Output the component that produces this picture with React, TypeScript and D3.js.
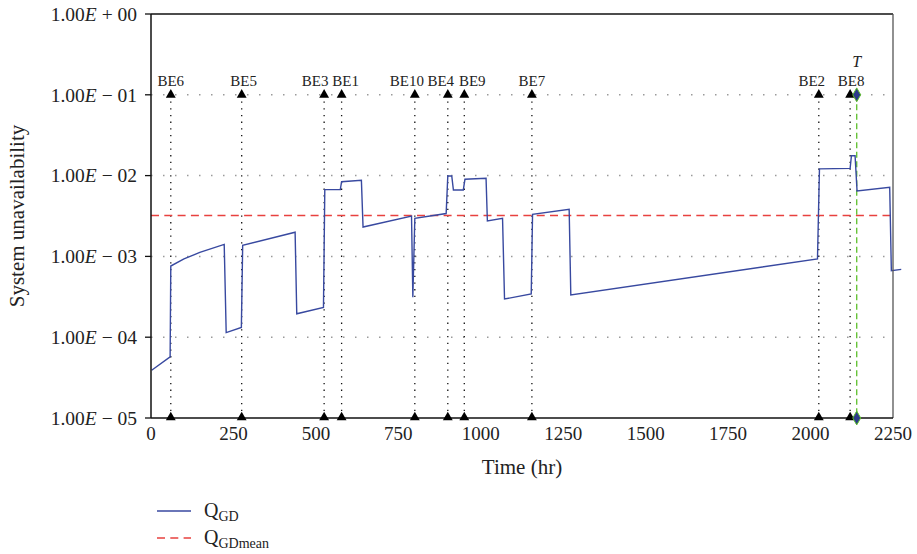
import React from "react";
import * as d3 from "d3";

// Q_GD curve (hr, unavailability)
const qTime = [
  2, 58, 60, 100, 148, 222, 228, 274, 278, 437, 442, 523, 527, 574, 578, 638,
  643, 790, 794, 800, 895, 900, 912, 917, 947, 952, 1016, 1020, 1066, 1072,
  1153, 1157, 1268, 1273, 2021, 2027, 2120, 2124, 2135, 2141, 2240, 2245, 2275,
];
const qValue = [
  3.9e-5, 5.7e-5, 7.6e-4, 9.3e-4, 1.12e-3, 1.41e-3, 1.14e-4, 1.32e-4, 1.37e-3,
  1.99e-3, 1.95e-4, 2.34e-4, 6.7e-3, 6.7e-3, 8.4e-3, 8.75e-3, 2.31e-3, 3.16e-3,
  3.12e-4, 2.96e-3, 3.39e-3, 9.9e-3, 9.9e-3, 6.64e-3, 6.64e-3, 9.0e-3, 9.25e-3,
  2.74e-3, 2.96e-3, 2.97e-4, 3.43e-4, 3.32e-3, 3.83e-3, 3.33e-4, 9.3e-4,
  1.21e-2, 1.23e-2, 1.76e-2, 1.76e-2, 6.46e-3, 7.16e-3, 6.65e-4, 6.9e-4,
];
const meanValue = 3.2e-3;

const eventNames = ["BE6", "BE5", "BE3", "BE1", "BE10", "BE4", "BE9", "BE7", "BE2", "BE8"];
const eventTimes = [60, 275, 525, 578, 800, 900, 950, 1155, 2025, 2120];
const missionTime = 2140;

const xTicks = [0, 250, 500, 750, 1000, 1250, 1500, 1750, 2000, 2250];
const yTickExp = [0, -1, -2, -3, -4, -5];

const width = 917;
const height = 554;
const margin = { top: 14, right: 24, bottom: 136, left: 151 };
const font = "'Liberation Serif', 'Times New Roman', serif";
// nudges so neighbouring event labels don't collide (px)
const labelDx = [0, 2, -9, 4, -8, -7, 8, 0, -7, 1];

export default function App() {
  const x = d3.scaleLinear().domain([0, 2250]).range([margin.left, width - margin.right]);
  const y = d3.scaleLog().domain([1e-5, 1]).range([height - margin.bottom, margin.top]);

  const line = d3
    .line<number>()
    .x((d, i) => x(qTime[i]))
    .y((d) => y(d));

  const tri = d3.symbol(d3.symbolTriangle, 42)() as string;
  const diamond = d3.symbol(d3.symbolDiamond, 55)() as string;

  const yTop = y(1e-1);
  const yBottom = y(1e-5);
  const x0 = x.range()[0];
  const x1 = x.range()[1];

  const tickLabel = (e: number) => {
    const sign = e >= 0 ? " + " : " \u2212 ";
    const num = String(Math.abs(e)).padStart(2, "0");
    return (
      <>
        1.00<tspan fontStyle="italic">E</tspan>
        {sign}
        {num}
      </>
    );
  };

  return (
    <div style={{ position: "absolute", left: 0, top: 0 }}>
      <svg width={width} height={height} fontFamily={font}>
        <rect width={width} height={height} fill="white" />

        {/* horizontal grid */}
        {yTickExp
          .filter((e) => e < 0 && e > -5)
          .map((e) => (
            <line
              key={e}
              x1={x0}
              x2={x1}
              y1={y(Math.pow(10, e))}
              y2={y(Math.pow(10, e))}
              stroke="#9a9a9a"
              strokeWidth={1.5}
              strokeDasharray="1.5 10.5"
            />
          ))}

        {/* event lines */}
        {eventTimes.map((t, i) => (
          <line
            key={eventNames[i]}
            x1={x(t)}
            x2={x(t)}
            y1={yTop}
            y2={yBottom}
            stroke="#111"
            strokeWidth={1.3}
            strokeDasharray="1.3 5.4"
          />
        ))}

        {/* mean */}
        <line
          x1={x0}
          x2={x1}
          y1={y(meanValue)}
          y2={y(meanValue)}
          stroke="#e8413f"
          strokeWidth={1.5}
          strokeDasharray="8 5.3"
        />

        {/* mission time */}
        <line
          x1={x(missionTime)}
          x2={x(missionTime)}
          y1={yTop}
          y2={yBottom}
          stroke="#5cbf2a"
          strokeWidth={1.3}
          strokeDasharray="6 3.5"
        />

        {/* Q_GD */}
        <path d={line(qValue) as string} fill="none" stroke="#3849a0" strokeWidth={1.4} />

        {/* frame */}
        <line x1={x0} x2={x1} y1={margin.top} y2={margin.top} stroke="#111" strokeWidth={1.5} />
        <line x1={x1} x2={x1} y1={margin.top} y2={yBottom} stroke="#555" strokeWidth={1.3} />
        <line x1={x0} x2={x0} y1={margin.top} y2={yBottom} stroke="#111" strokeWidth={1.5} />
        <line x1={x0} x2={x1} y1={yBottom} y2={yBottom} stroke="#111" strokeWidth={1.5} />

        {/* event markers */}
        {eventTimes.map((t, i) => (
          <g key={"m" + eventNames[i]}>
            <path d={tri} transform={`translate(${x(t)},${yTop})`} fill="#000" />
            <path d={tri} transform={`translate(${x(t)},${yBottom - 0.5})`} fill="#000" />
            <text x={x(t) + labelDx[i]} y={yTop - 9} fontSize={15} textAnchor="middle" fill="#222">
              {eventNames[i]}
            </text>
          </g>
        ))}

        {/* mission time markers */}
        {[yTop, yBottom].map((yy) => (
          <path
            key={yy}
            d={diamond}
            transform={`translate(${x(missionTime)},${yy})`}
            fill="#2b3a8a"
            stroke="#5cbf2a"
            strokeWidth={1}
          />
        ))}
        <text x={x(missionTime)} y={yTop - 28} fontSize={16} fontStyle="italic" textAnchor="middle" fill="#222">
          T
        </text>

        {/* y axis */}
        {yTickExp.map((e) => (
          <g key={"y" + e}>
            <line x1={x0 - 6} x2={x0} y1={y(Math.pow(10, e))} y2={y(Math.pow(10, e))} stroke="#111" strokeWidth={1.3} />
            <text x={x0 - 14} y={y(Math.pow(10, e))} dy="0.35em" fontSize={19.5} textAnchor="end" fill="#222">
              {tickLabel(e)}
            </text>
          </g>
        ))}

        {/* x axis */}
        {xTicks.map((t) => (
          <text key={"x" + t} x={x(t)} y={yBottom + 22} fontSize={19} textAnchor="middle" fill="#222">
            {t}
          </text>
        ))}

        <text x={(x0 + x1) / 2} y={yBottom + 56} fontSize={21} textAnchor="middle" fill="#222">
          Time (hr)
        </text>
        <text
          transform={`translate(24,${(margin.top + yBottom) / 2}) rotate(-90)`}
          fontSize={21}
          textAnchor="middle"
          fill="#222"
        >
          System unavailability
        </text>

        {/* legend */}
        <line x1={157} x2={191} y1={511} y2={511} stroke="#3849a0" strokeWidth={1.4} />
        <text x={204} y={517} fontSize={20} fill="#222">
          Q<tspan fontSize={14} dy={4}>GD</tspan>
        </text>
        <line x1={157} x2={191} y1={538} y2={538} stroke="#e8413f" strokeWidth={1.5} strokeDasharray="8 5.3" />
        <text x={204} y={544} fontSize={20} fill="#222">
          Q<tspan fontSize={14} dy={4}>GDmean</tspan>
        </text>
      </svg>
    </div>
  );
}
